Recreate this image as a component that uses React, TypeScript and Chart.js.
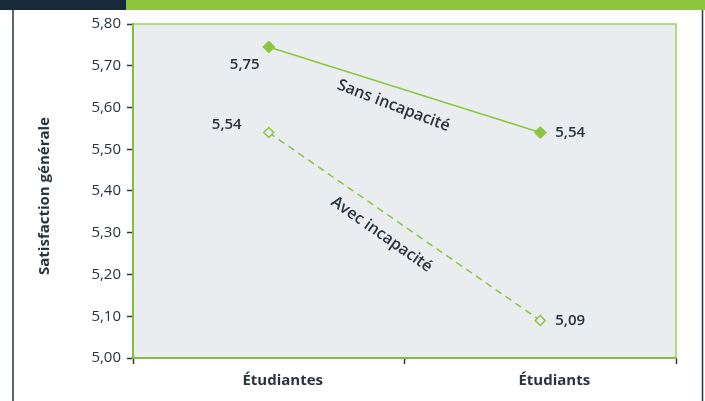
import { useEffect, useRef } from "react";
import { Chart, registerables } from "chart.js";

Chart.register(...registerables);

const categories = ["Étudiantes", "Étudiants"];
const seriesNames = ["Sans incapacité", "Avec incapacité"];
const sansIncapacite = [5.745, 5.54];
const avecIncapacite = [5.54, 5.09];
const sansLabels = ["5,75", "5,54"];
const avecLabels = ["5,54", "5,09"];
const yMin = 5.0;
const yMax = 5.8;
const yStep = 0.1;
const yAxisTitle = "Satisfaction générale";

const GREEN = "#8cc63f";
const NAVY = "#172a3a";
const TEXT = "#27333f";
const BG = "#e9edf0";
const FONT = "'Open Sans', 'Noto Sans', sans-serif";

const decorations = {
  id: "decorations",
  beforeDraw(chart: any) {
    const { ctx, chartArea: a } = chart;
    ctx.save();
    ctx.fillStyle = BG;
    ctx.fillRect(a.left, a.top, a.right - a.left, a.bottom - a.top);
    // top band
    ctx.fillStyle = NAVY;
    ctx.fillRect(0, 0, 126, 10);
    ctx.fillStyle = GREEN;
    ctx.fillRect(126, 0, chart.width - 126, 10);
    // side frame lines
    ctx.strokeStyle = "#2b3640";
    ctx.lineWidth = 1.5;
    ctx.beginPath();
    ctx.moveTo(13, 10);
    ctx.lineTo(13, chart.height);
    ctx.moveTo(702.5, 10);
    ctx.lineTo(702.5, chart.height);
    ctx.stroke();
    // top & right border of plot
    ctx.strokeStyle = "#9dd05c";
    ctx.lineWidth = 1.5;
    ctx.beginPath();
    ctx.moveTo(a.left, a.top);
    ctx.lineTo(a.right, a.top);
    ctx.lineTo(a.right, a.bottom);
    ctx.stroke();
    // axis title
    ctx.fillStyle = TEXT;
    ctx.font = `bold 15px ${FONT}`;
    ctx.textAlign = "center";
    ctx.textBaseline = "middle";
    ctx.translate(45, (a.top + a.bottom) / 2 + 5);
    ctx.rotate(-Math.PI / 2);
    ctx.fillText(yAxisTitle, 0, 0);
    ctx.restore();
  },
  afterDatasetsDraw(chart: any) {
    const { ctx } = chart;
    const xs = chart.scales.x;
    const ys = chart.scales.y;
    ctx.save();
    ctx.fillStyle = TEXT;
    ctx.font = `600 15px ${FONT}`;
    ctx.textBaseline = "middle";
    const x0 = xs.getPixelForValue(0);
    const x1 = xs.getPixelForValue(1);
    // value labels
    ctx.textAlign = "center";
    ctx.fillText(sansLabels[0], x0 - 24, ys.getPixelForValue(sansIncapacite[0]) + 18);
    ctx.fillText(avecLabels[0], x0 - 42, ys.getPixelForValue(avecIncapacite[0]) - 8);
    ctx.textAlign = "left";
    ctx.fillText(sansLabels[1], x1 + 15, ys.getPixelForValue(sansIncapacite[1]));
    ctx.fillText(avecLabels[1], x1 + 15, ys.getPixelForValue(avecIncapacite[1]));
    // series names along lines
    ctx.textAlign = "center";
    ctx.font = `600 16px ${FONT}`;
    const drawRot = (txt: string, vals: number[], dx: number, dy: number, deg: number) => {
      const mx = (x0 + x1) / 2 + dx;
      const my = (ys.getPixelForValue(vals[0]) + ys.getPixelForValue(vals[1])) / 2 + dy;
      ctx.save();
      ctx.translate(mx, my);
      ctx.rotate((deg * Math.PI) / 180);
      ctx.fillText(txt, 0, 0);
      ctx.restore();
    };
    drawRot(seriesNames[0], sansIncapacite, -11, 16, 21);
    drawRot(seriesNames[1], avecIncapacite, -23, 8, 35);
    ctx.restore();
  },
};

export default function App() {
  const ref = useRef<HTMLCanvasElement>(null);
  useEffect(() => {
    document.body.style.margin = "0";
    const chart = new Chart(ref.current!, {
      type: "line",
      data: {
        labels: categories,
        datasets: [
          {
            label: seriesNames[0],
            data: sansIncapacite,
            borderColor: GREEN,
            backgroundColor: GREEN,
            borderWidth: 1.5,
            pointStyle: "rectRot",
            pointRadius: 6,
            pointBorderWidth: 1,
            pointBackgroundColor: GREEN,
            pointBorderColor: GREEN,
          },
          {
            label: seriesNames[1],
            data: avecIncapacite,
            borderColor: GREEN,
            backgroundColor: BG,
            borderWidth: 1.5,
            borderDash: [7, 5],
            pointStyle: "rectRot",
            pointRadius: 5,
            pointBorderWidth: 1.5,
            pointBackgroundColor: BG,
            pointBorderColor: GREEN,
          },
        ],
      },
      options: {
        responsive: false,
        animation: false,
        devicePixelRatio: 1,
        layout: { padding: { top: 24, right: 29, left: 0, bottom: 0 } },
        plugins: { legend: { display: false }, tooltip: { enabled: false } },
        scales: {
          x: {
            type: "category",
            offset: true,
            afterFit(scale: any) {
              scale.height = 43;
            },
            grid: {
              offset: true,
              drawOnChartArea: false,
              tickLength: 6,
              tickColor: "#2b3640",
              tickWidth: 1.5,
            },
            border: { color: "#7fbf3c", width: 2 },
            ticks: {
              color: TEXT,
              font: { family: FONT, size: 15, weight: "bold" },
              labelOffset: 14,
              padding: 8,
            },
          },
          y: {
            min: yMin,
            max: yMax,
            afterFit(scale: any) {
              scale.width = 133;
            },
            grid: {
              drawOnChartArea: false,
              tickLength: 6,
              tickColor: "#2b3640",
              tickWidth: 1.5,
            },
            border: { color: "#7fbf3c", width: 2 },
            ticks: {
              stepSize: yStep,
              color: TEXT,
              font: { family: FONT, size: 15 },
              padding: 6,
              callback: (v: any) => Number(v).toFixed(2).replace(".", ","),
            },
          },
        },
      },
      plugins: [decorations],
    });
    return () => chart.destroy();
  }, []);
  return (
    <div style={{ position: "fixed", left: 0, top: 0, width: 705, height: 401, background: "#fff" }}>
      <canvas ref={ref} width={705} height={401} />
    </div>
  );
}
